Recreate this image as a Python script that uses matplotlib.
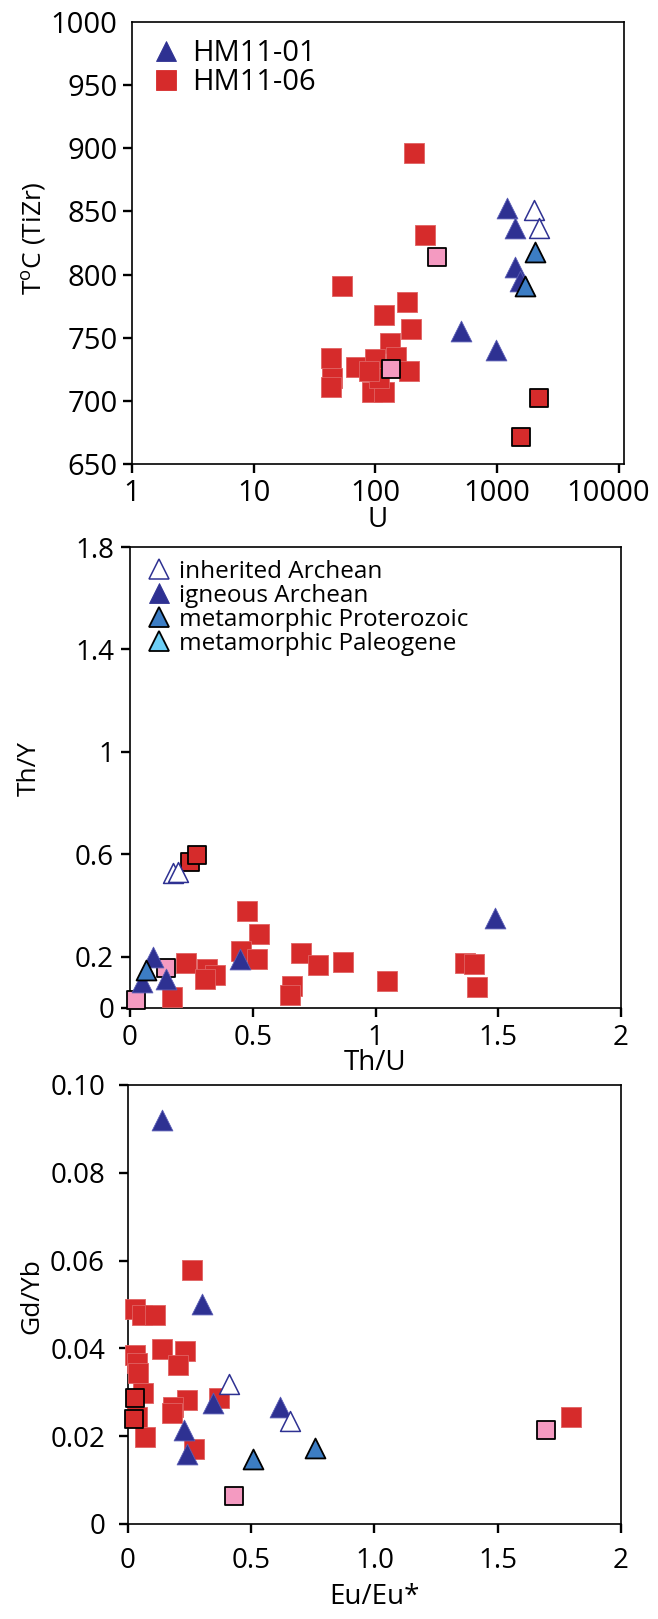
import matplotlib
matplotlib.use('Agg')
import matplotlib.pyplot as plt
import matplotlib.transforms as mtransforms
from matplotlib.lines import Line2D
from matplotlib.ticker import NullLocator

plt.rcParams['font.family'] = ['Open Sans', 'DejaVu Sans']
plt.rcParams['mathtext.default'] = 'regular'

RED = '#d62b2b'
NAVY = '#2e3192'
PINK = '#f49ac1'
STEEL = '#3c7dc4'
CYAN = '#6dcff6'

# --- panel 1: U vs Ti-in-zircon temperature
u_red = [206, 256, 53, 180, 118, 196, 131, 43, 69, 100, 147, 188, 44, 43, 93, 117, 106, 88]
t_red = [896, 831, 791, 778, 768, 757, 746, 734, 727, 733, 735, 724, 718, 711, 707, 707, 718, 724]
u_pink = [322, 134]
t_pink = [814, 725]
u_redk = [2200, 1580]
t_redk = [702, 671]
u_ign = [1200, 1390, 1390, 1550, 500, 980]
t_ign = [853, 837, 806, 795, 755, 740]
u_inh = [2020, 2190]
t_inh = [851, 837]
u_met = [2050, 1700]
t_met = [818, 791]

# --- panel 2: Th/U vs Th/Y
thu_red = [0.478, 0.525, 0.452, 0.516, 0.229, 0.313, 0.345, 0.307, 0.171, 0.696,
           0.765, 0.867, 0.659, 0.652, 1.046, 1.365, 1.400, 1.414]
thy_red = [0.377, 0.287, 0.222, 0.190, 0.177, 0.154, 0.127, 0.112, 0.042, 0.213,
           0.167, 0.180, 0.085, 0.049, 0.104, 0.177, 0.173, 0.081]
thu_pink = [0.145, 0.026]
thy_pink = [0.156, 0.033]
thu_redk = [0.246, 0.272]
thy_redk = [0.571, 0.597]
thu_ign = [0.094, 0.050, 0.145, 0.449, 1.486]
thy_ign = [0.200, 0.100, 0.114, 0.193, 0.350]
thu_inh = [0.174, 0.196]
thy_inh = [0.528, 0.530]
thu_met = [0.067]
thy_met = [0.147]

# --- panel 3: Eu/Eu* vs Gd/Yb
eu_red = [0.260, 0.027, 0.058, 0.111, 0.140, 0.230, 0.201, 0.027, 0.036, 0.039,
          0.061, 0.239, 0.184, 0.177, 0.369, 0.036, 0.068, 0.268, 1.797]
gd_red = [0.0578, 0.0489, 0.0476, 0.0477, 0.0398, 0.0394, 0.0362, 0.0385, 0.0366, 0.0343,
          0.0299, 0.0282, 0.0267, 0.0252, 0.0286, 0.0244, 0.0199, 0.0170, 0.0244]
eu_pink = [1.695, 0.430]
gd_pink = [0.0215, 0.0064]
eu_redk = [0.029, 0.025]
gd_redk = [0.0286, 0.0240]
eu_ign = [0.136, 0.301, 0.343, 0.617, 0.229, 0.240]
gd_ign = [0.0921, 0.0501, 0.0275, 0.0267, 0.0215, 0.0160]
eu_inh = [0.408, 0.658]
gd_inh = [0.0319, 0.0235]
eu_met = [0.509, 0.760]
gd_met = [0.0149, 0.0174]

SQ = 205
TRI = 225


def draw_points(ax, xr, yr, xp, yp, xk, yk, xi, yi, xh, yh, xm, ym):
    kw = dict(clip_on=False)
    ax.scatter(xr, yr, marker='s', s=SQ, c=RED, edgecolors='#e06262', linewidths=0.6, zorder=3, **kw)
    ax.scatter(xp, yp, marker='s', s=SQ - 20, c=PINK, edgecolors='black', linewidths=1.3, zorder=4, **kw)
    ax.scatter(xk, yk, marker='s', s=SQ - 20, c=RED, edgecolors='black', linewidths=1.3, zorder=4, **kw)
    ax.scatter(xi, yi, marker='^', s=TRI, c=NAVY, edgecolors='#5a5db5', linewidths=0.6, zorder=5, **kw)
    ax.scatter(xh, yh, marker='^', s=TRI - 20, facecolors='white', edgecolors=NAVY, linewidths=1.1, zorder=5, **kw)
    ax.scatter(xm, ym, marker='^', s=TRI - 20, c=STEEL, edgecolors='black', linewidths=1.3, zorder=6, **kw)


def style(ax, fs, pad=5):
    for sp in ax.spines.values():
        sp.set_linewidth(1.2)
    ax.tick_params(direction='out', length=6.5, width=1.7, labelsize=fs, pad=pad)


fig = plt.figure(figsize=(6.58, 16.19), dpi=100)

# panel 1
ax1 = fig.add_axes([0.2006, 0.7134, 0.7477, 0.2730])
draw_points(ax1, u_red, t_red, u_pink, t_pink, u_redk, t_redk,
            u_ign, t_ign, u_inh, t_inh, u_met, t_met)
ax1.set_xscale('log')
ax1.set_xlim(1, 11000)
ax1.set_ylim(650, 1000)
ax1.set_xticks([1, 10, 100, 1000, 10000])
ax1.set_xticklabels(['1', '10', '100', '1000', '10000'])
ax1.xaxis.set_minor_locator(NullLocator())
ax1.set_yticks([650, 700, 750, 800, 850, 900, 950, 1000])
ax1.yaxis.get_major_ticks()[-1].tick1line.set_visible(False)
style(ax1, 21, pad=4)
# the last label is nudged left so it stays inside the figure, as in the original
last = ax1.get_xticklabels()[-1]
last.set_transform(last.get_transform() +
                   mtransforms.ScaledTranslation(-0.11, 0, fig.dpi_scale_trans))
ax1.set_xlabel('U', fontsize=20)
ax1.xaxis.set_label_coords(0.5, -0.095)
ax1.set_ylabel(r'T$^{o}$C (TiZr)', fontsize=19)
ax1.yaxis.set_label_coords(-0.17, 0.51)
h1 = [Line2D([], [], ls='none', marker='^', ms=15, mfc=NAVY, mec=NAVY, mew=0.6),
      Line2D([], [], ls='none', marker='s', ms=14.5, mfc=RED, mec=RED, mew=0.6)]
ax1.legend(h1, ['HM11-01', 'HM11-06'], loc='upper left', bbox_to_anchor=(0.039, 0.962),
           frameon=False, fontsize=21, handlelength=1.0, handletextpad=0.42,
           borderpad=0, borderaxespad=0, labelspacing=0.02)

# panel 2
ax2 = fig.add_axes([0.1976, 0.3774, 0.7462, 0.2847])
draw_points(ax2, thu_red, thy_red, thu_pink, thy_pink, thu_redk, thy_redk,
            thu_ign, thy_ign, thu_inh, thy_inh, thu_met, thy_met)
ax2.set_xlim(0, 2)
ax2.set_ylim(0, 1.8)
ax2.set_xticks([0, 0.5, 1, 1.5, 2])
ax2.set_xticklabels(['0', '0.5', '1', '1.5', '2'])
ax2.set_yticks([0, 0.2, 0.6, 1, 1.4, 1.8])
ax2.set_yticklabels(['0', '0.2', '0.6', '1', '1.4', '1.8'])
style(ax2, 20)
ax2.set_xlabel('Th/U', fontsize=20)
ax2.xaxis.set_label_coords(0.5, -0.09)
ax2.set_ylabel('Th/Y', fontsize=19)
ax2.yaxis.set_label_coords(-0.18, 0.52)
h2 = [Line2D([], [], ls='none', marker='^', ms=15, mfc='white', mec=NAVY, mew=1.1),
      Line2D([], [], ls='none', marker='^', ms=15, mfc=NAVY, mec=NAVY, mew=0.6),
      Line2D([], [], ls='none', marker='^', ms=14, mfc=STEEL, mec='black', mew=1.3),
      Line2D([], [], ls='none', marker='^', ms=14, mfc=CYAN, mec='black', mew=1.3)]
ax2.legend(h2, ['inherited Archean', 'igneous Archean', 'metamorphic Proterozoic',
                'metamorphic Paleogene'],
           loc='upper left', bbox_to_anchor=(0.035, 0.972), frameon=False, fontsize=17.5,
           handlelength=1.0, handletextpad=0.3, borderpad=0, borderaxespad=0,
           labelspacing=0.0)

# panel 3
ax3 = fig.add_axes([0.1945, 0.0587, 0.7492, 0.2712])
draw_points(ax3, eu_red, gd_red, eu_pink, gd_pink, eu_redk, gd_redk,
            eu_ign, gd_ign, eu_inh, gd_inh, eu_met, gd_met)
ax3.set_xlim(0, 2)
ax3.set_ylim(0, 0.1)
ax3.set_xticks([0, 0.5, 1.0, 1.5, 2])
ax3.set_xticklabels(['0', '0.5', '1.0', '1.5', '2'])
ax3.set_yticks([0, 0.02, 0.04, 0.06, 0.08, 0.10])
ax3.set_yticklabels(['0', '0.02', '0.04', '0.06', '0.08', '0.10'])
style(ax3, 20, pad=10)
ax3.set_xlabel('Eu/Eu*', fontsize=20)
ax3.xaxis.set_label_coords(0.5, -0.135)
ax3.set_ylabel('Gd/Yb', fontsize=19)
ax3.yaxis.set_label_coords(-0.17, 0.52)

fig.savefig('out.png', dpi=100)
